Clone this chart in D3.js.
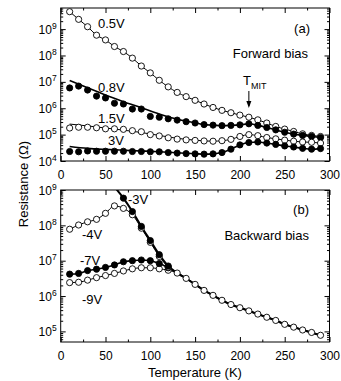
<!DOCTYPE html>
<html><head><meta charset="utf-8">
<script src="https://cdn.jsdelivr.net/npm/d3@7"></script>
<style>
body{margin:0;background:#fff}
text{font-family:"Liberation Sans",Arial,Helvetica,sans-serif;fill:#000}
</style>
</head><body>
<svg id="chart" width="341" height="381"></svg>
<script>
// ---------------- DATA (log10 of resistance in ohms) ----------------
const T = [10,20,30,40,50,60,70,80,90,100,110,120,130,140,150,160,170,180,190,200,210,220,230,240,250,260,270,280,290];

// Panel (a): forward bias
const logR_fwd_05V = [9.66,9.37,9.09,8.77,8.59,8.34,8.15,7.9,7.6,7.34,7.06,6.81,6.6,6.44,6.3,6.16,6.03,5.92,5.83,5.74,5.66,5.56,5.44,5.31,5.21,5.12,5.03,4.97,4.93];
const logR_fwd_08V = [6.77,6.84,6.69,6.46,6.39,6.19,6.16,5.97,5.97,5.69,5.66,5.6,5.55,5.49,5.44,5.38,5.36,5.34,5.35,5.37,5.41,5.35,5.27,5.18,5.09,5.02,4.97,4.93,4.89];
const logR_fwd_15V = [5.25,5.28,5.28,5.26,5.22,5.22,5.2,5.15,5.11,5.0,4.95,4.88,4.83,4.8,4.78,4.76,4.75,4.77,4.82,4.93,5.0,4.96,4.89,4.84,4.79,4.75,4.72,4.71,4.68];
const logR_fwd_3V  = [4.36,4.35,4.38,4.37,4.37,4.37,4.37,4.36,4.36,4.35,4.35,4.32,4.3,4.28,4.27,4.26,4.27,4.32,4.45,4.61,4.7,4.72,4.68,4.63,4.57,4.53,4.48,4.45,4.47];

// Fitted low-temperature curves (panel a)
const fitT = [10,30,50,70,90,110,130,150];
const fit_fwd_08V = [7.05,6.78,6.5,6.25,6.02,5.78,5.58,5.45];
const fit_fwd_15V = [5.4,5.33,5.25,5.17,5.08,4.97,4.86,4.79];
const fit_fwd_3V  = [4.55,4.48,4.44,4.41,4.38,4.35,4.31,4.28];

// Panel (b): backward bias
const T_low = [10,20,30,40,50,60,70,80,90,100,110,120];
const logR_bwd_4V = [7.89,8.01,8.1,8.17,8.34,8.55,8.48,8.3,7.92,7.52,7.12,6.82];
const logR_bwd_7V = [6.62,6.64,6.72,6.76,6.81,6.88,6.97,7.0,7.02,7.0,6.92,6.8];
const logR_bwd_9V = [6.38,6.39,6.45,6.52,6.58,6.64,6.71,6.77,6.8,6.8,6.77,6.73];
const T_3V = [70,80,90,100,110,120];
const logR_bwd_3V = [8.77,8.39,7.97,7.57,7.17,6.85];
const fitT_bwd_3V = [58];
const fit_bwd_3V = [9.15];
// common high-temperature branch (all backward curves merge)
const T_tail = [130,140,150,160,170,180,190,200,210,220,230,240,250,260,270,280,290];
const logR_tail = [6.65,6.5,6.33,6.16,6.02,5.88,5.76,5.67,5.58,5.49,5.4,5.31,5.2,5.12,5.04,4.97,4.89];

// tick labels
const xTicks = [0,50,100,150,200,250,300];
const yExpA = [4,5,6,7,8,9];
const yExpB = [5,6,7,8,9];

// ---------------- DRAW ----------------
const svg = d3.select("#chart");
const X0 = 60.7, X1 = 329.5;
const x = d3.scaleLinear().domain([0,300]).range([X0,X1]);

const panels = [
  {id:"a", top:8, bottom:161, dom:[1e4, Math.pow(10,9.8)], exps:yExpA},
  {id:"b", top:190, bottom:342, dom:[Math.pow(10,4.7), 1e9], exps:yExpB}
];

function zip(ts, ls){ return ts.map((t,i)=>({T:t, R:Math.pow(10, ls[i])})); }

panels.forEach(p=>{
  p.y = d3.scaleLog().domain(p.dom).range([p.bottom, p.top]);
  const g = svg.append("g");
  p.g = g;
  // clip
  svg.append("clipPath").attr("id","clip"+p.id).append("rect")
    .attr("x",X0).attr("y",p.top).attr("width",X1-X0).attr("height",p.bottom-p.top);

  // minor ticks
  const minor = [];
  for (let e=Math.floor(Math.log10(p.dom[0])); e<=Math.ceil(Math.log10(p.dom[1])); e++)
    for (let k=2;k<=9;k++){ const v=k*Math.pow(10,e); if (v>=p.dom[0] && v<=p.dom[1]) minor.push(v); }
  const major = p.exps.map(e=>Math.pow(10,e));
  const xMinor = [25,75,125,175,225,275];

  const axes = [
    [d3.axisLeft(p.y).tickValues(major).tickSize(-5), `translate(${X0},0)`],
    [d3.axisLeft(p.y).tickValues(minor).tickSize(-2.5), `translate(${X0},0)`],
    [d3.axisRight(p.y).tickValues(major).tickSize(-5), `translate(${X1},0)`],
    [d3.axisRight(p.y).tickValues(minor).tickSize(-2.5), `translate(${X1},0)`],
    [d3.axisTop(x).tickValues(xTicks).tickSize(-5), `translate(0,${p.top})`],
    [d3.axisTop(x).tickValues(xMinor).tickSize(-2.5), `translate(0,${p.top})`],
    [d3.axisBottom(x).tickValues(xMinor).tickSize(-2.5), `translate(0,${p.bottom})`]
  ];
  axes.forEach(([ax,tr])=>{
    const a = g.append("g").attr("transform",tr).call(ax.tickFormat(""));
    a.select(".domain").remove();
    a.selectAll("line").attr("stroke","#000").attr("stroke-width",1);
  });
  const xb = g.append("g").attr("transform",`translate(0,${p.bottom})`)
    .call(d3.axisBottom(x).tickValues(xTicks).tickSize(-5).tickPadding(9).tickFormat(d3.format("d")));
  xb.select(".domain").remove();
  xb.selectAll("line").attr("stroke","#000");
  xb.selectAll("text").attr("font-size",12).attr("font-family","Liberation Sans, Arial, sans-serif").attr("fill","#000");

  // y tick labels with superscript
  p.exps.forEach(e=>{
    const t = g.append("text").attr("x",X0-4).attr("y",p.y(Math.pow(10,e))+4.5)
      .attr("text-anchor","end").attr("font-size",12);
    t.append("tspan").text("10");
    t.append("tspan").attr("dy",-5).attr("font-size",8.5).text(e);
  });

  // frame
  g.append("rect").attr("x",X0).attr("y",p.top).attr("width",X1-X0).attr("height",p.bottom-p.top)
    .attr("fill","none").attr("stroke","#000").attr("stroke-width",1);

  p.plot = svg.append("g").attr("clip-path",`url(#clip${p.id})`);
});

function drawLine(p, data, width){
  const line = d3.line().x(d=>x(d.T)).y(d=>p.y(d.R)).curve(d3.curveMonotoneX);
  p.plot.append("path").datum(data).attr("d",line)
    .attr("fill","none").attr("stroke","#000").attr("stroke-width",width);
}
function drawPts(p, data, filled){
  p.plot.selectAll(null).data(data).enter().append("circle")
    .attr("cx",d=>x(d.T)).attr("cy",d=>p.y(d.R)).attr("r",3.1)
    .attr("fill",filled?"#000":"#fff").attr("stroke","#000").attr("stroke-width",0.9);
}

const A = panels[0], B = panels[1];
// panel a series
const s05 = zip(T, logR_fwd_05V);
const s08 = zip(T, logR_fwd_08V);
const s15 = zip(T, logR_fwd_15V);
const s3  = zip(T, logR_fwd_3V);
const lastFit = fitT[fitT.length-1];
const withFit = (fit, pts)=> zip(fitT, fit).concat(pts.filter(d=>d.T>lastFit));
drawLine(A, s05, 1);
drawLine(A, withFit(fit_fwd_08V, s08), 1.6);
drawLine(A, withFit(fit_fwd_15V, s15), 1);
drawLine(A, withFit(fit_fwd_3V, s3), 1.6);
drawPts(A, s05, false);
drawPts(A, s08, true);
drawPts(A, s15, false);
drawPts(A, s3, true);

// panel b series
const tail = zip(T_tail, logR_tail);
const b4 = zip(T_low, logR_bwd_4V).concat(tail);
const b7 = zip(T_low, logR_bwd_7V).concat(tail);
const b9 = zip(T_low, logR_bwd_9V).concat(tail);
const b3 = zip(T_3V, logR_bwd_3V).concat(tail);
drawLine(B, b9, 1);
drawLine(B, b7, 1.6);
drawLine(B, b4, 1);
drawLine(B, zip(fitT_bwd_3V, fit_bwd_3V).concat(b3), 2);
drawPts(B, b9, false);
drawPts(B, zip(T_low, logR_bwd_7V), true);
drawPts(B, zip(T_low, logR_bwd_4V), false);
drawPts(B, zip(T_3V, logR_bwd_3V), true);

// annotations
function label(txt, xx, yy, anchor){
  svg.append("text").attr("x",xx).attr("y",yy).attr("font-size",13)
    .attr("text-anchor",anchor||"start").text(txt);
}
label("0.5V", 98, 28);
label("0.8V", 98, 92);
label("1.5V", 98, 123);
label("3V", 108, 145);
label("(a)", 310, 33, "end");
label("Forward bias", 308, 58, "end");
label("(b)", 309, 214, "end");
label("Backward bias", 309, 240, "end");
label("-3V", 128, 204);
label("-4V", 82, 239);
label("-7V", 80, 265);
label("-9V", 82, 304);

// T_MIT with arrow
const tm = svg.append("text").attr("x",243).attr("y",85).attr("font-size",13);
tm.append("tspan").text("T");
tm.append("tspan").attr("dy",4).attr("font-size",9).text("MIT");
const ax = x(210);
svg.append("line").attr("x1",ax).attr("x2",ax).attr("y1",91).attr("y2",106).attr("stroke","#000").attr("stroke-width",1);
svg.append("path").attr("d",`M${ax-2.5},101 L${ax},108 L${ax+2.5},101 Z`).attr("fill","#000");

// axis titles
svg.append("text").attr("transform","translate(28,184) rotate(-90)")
  .attr("text-anchor","middle").attr("font-size",13).text("Resistance (Ω)");
svg.append("text").attr("x",195).attr("y",377).attr("text-anchor","middle")
  .attr("font-size",13).text("Temperature (K)");
</script>
</body></html>
